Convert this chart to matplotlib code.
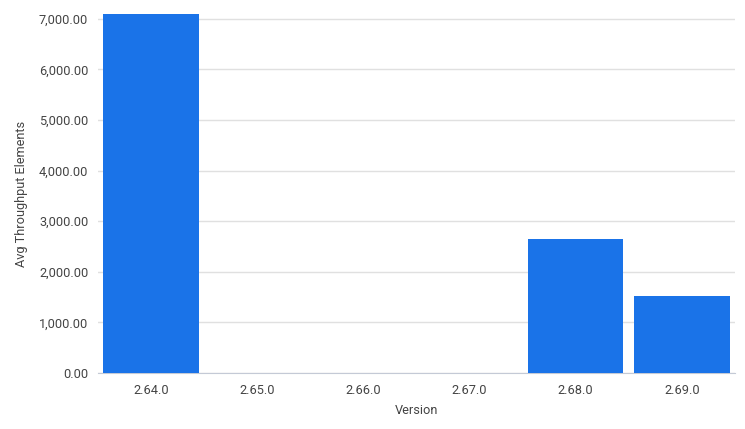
import matplotlib.pyplot as plt
from matplotlib.ticker import FuncFormatter

versions = ['2.64.0', '2.65.0', '2.66.0', '2.67.0', '2.68.0', '2.69.0']
throughput = [7095, 0, 0, 0, 2648, 1522]

plt.rcParams['font.family'] = ['Roboto', 'DejaVu Sans']

fig = plt.figure(figsize=(7.45, 4.29), dpi=100)
ax = fig.add_axes([0.1315, 0.1305, 0.855, 0.837])

x = range(len(versions))
ax.bar(x, throughput, width=0.9, color='#1a73e8', zorder=3)

ax.set_xlim(-0.5, len(versions) - 0.5)
ax.set_ylim(0, max(throughput))
ax.set_yticks(range(0, 7001, 1000))
ax.yaxis.set_major_formatter(FuncFormatter(lambda v, p: f'{v:,.2f}'))
ax.set_xticks(list(x))
ax.set_xticklabels(versions)

ax.grid(axis='y', color='#e0e0e0', linewidth=1, zorder=0)
for s in ['top', 'right', 'left']:
    ax.spines[s].set_visible(False)
ax.spines['bottom'].set_color('#c4cad6')
ax.tick_params(axis='both', length=0, labelsize=9.2, colors='#444444', pad=7)
ax.tick_params(axis='x', pad=8)

ax.set_xlabel('Version', fontsize=9.2, color='#444444', labelpad=5)
ax.set_ylabel('Avg Throughput Elements', fontsize=9.2, color='#444444', labelpad=8)

fig.savefig('out.png', dpi=100)
